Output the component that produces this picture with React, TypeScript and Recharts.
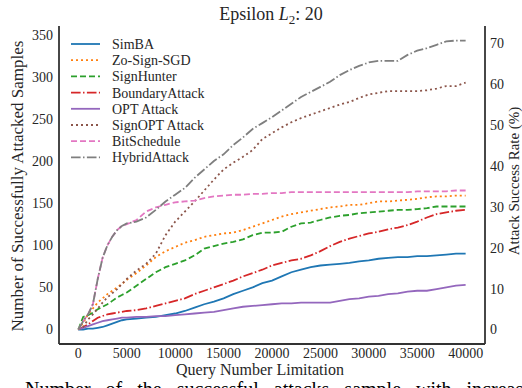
import React from 'react';
import { LineChart, Line, XAxis, YAxis } from 'recharts';

const queries = [0, 500, 1000, 1500, 2000, 2500, 3000, 3500, 4000, 4500, 5000,
  6000, 7000, 8000, 9000, 10000, 11000, 12000, 13000, 14000, 15000, 16000, 17000, 18000, 19000, 20000,
  21000, 22000, 23000, 24000, 25000, 26000, 27000, 28000, 29000, 30000, 31000, 32000, 33000, 34000, 35000,
  36000, 37000, 38000, 39000, 40000];

const simba = [0, 0, 1, 1, 2, 3, 5, 7, 9, 11, 12,
  13, 14, 15, 17, 19, 22, 26, 30, 33, 37, 42, 46, 50, 55, 58,
  63, 68, 71, 74, 76, 77, 78, 79, 81, 82, 84, 85, 86, 86, 87,
  87, 88, 89, 90, 90];
const zoSignSgd = [0, 8, 18, 25, 32, 37, 42, 46, 50, 54, 59,
  67, 76, 86, 93, 98, 103, 106, 110, 112, 114, 115, 118, 122, 126, 130,
  134, 137, 139, 141, 143, 145, 146, 148, 148, 150, 152, 152, 153, 154, 155,
  157, 158, 158, 159, 159];
const signHunter = [0, 15, 17, 20, 24, 27, 30, 34, 38, 41, 44,
  52, 60, 68, 74, 78, 82, 88, 96, 99, 102, 104, 107, 112, 115, 115,
  116, 122, 126, 127, 130, 133, 135, 136, 138, 139, 140, 141, 142, 142, 143,
  144, 146, 146, 146, 146];
const boundaryAttack = [0, 3, 6, 10, 14, 16, 18, 19, 20, 21, 22,
  23, 25, 28, 31, 34, 37, 42, 46, 50, 54, 58, 63, 67, 71, 76,
  79, 82, 84, 88, 93, 99, 104, 108, 111, 114, 116, 119, 121, 124, 128,
  133, 137, 139, 141, 142];
const optAttack = [0, 2, 4, 6, 8, 10, 11, 12, 13, 14, 14,
  15, 15, 16, 16, 17, 18, 19, 20, 21, 23, 25, 27, 28, 29, 30,
  31, 31, 32, 32, 32, 32, 34, 36, 37, 39, 40, 42, 43, 45, 46,
  46, 48, 50, 52, 53];
const signOptAttack = [0, 3, 12, 18, 25, 32, 38, 43, 48, 54, 60,
  70, 78, 90, 112, 128, 140, 152, 165, 178, 190, 198, 205, 213, 226, 233,
  240, 246, 251, 255, 259, 263, 267, 270, 275, 279, 281, 283, 283, 283, 283,
  284, 286, 289, 289, 293];
const bitSchedule = [0, 10, 18, 30, 60, 85, 100, 110, 118, 123, 125,
  130, 140, 145, 148, 151, 152, 153, 156, 158, 159, 160, 160, 161, 161, 162,
  162, 163, 163, 163, 163, 163, 163, 163, 163, 163, 163, 163, 163, 163, 164,
  164, 164, 164, 165, 165];
const hybridAttack = [0, 10, 18, 30, 60, 85, 100, 110, 118, 123, 126,
  128, 133, 142, 152, 160, 168, 180, 190, 200, 208, 219, 228, 238, 245, 252,
  260, 268, 276, 282, 288, 294, 302, 308, 313, 317, 319, 319, 319, 326, 331,
  334, 338, 342, 343, 343];

const xTicks = [0, 5000, 10000, 15000, 20000, 25000, 30000, 35000, 40000];
const leftTicks = [0, 50, 100, 150, 200, 250, 300, 350];
const rightTicks = [0, 10, 20, 30, 40, 50, 60, 70];
const totalSamples = 485;

const seriesNames = ['SimBA', 'Zo-Sign-SGD', 'SignHunter', 'BoundaryAttack', 'OPT Attack', 'SignOPT Attack', 'BitSchedule', 'HybridAttack'];
const seriesValues = [simba, zoSignSgd, signHunter, boundaryAttack, optAttack, signOptAttack, bitSchedule, hybridAttack];

const colors = ['#1f77b4', '#ff7f0e', '#2ca02c', '#d62728', '#9467bd', '#8c564b', '#e377c2', '#7f7f7f'];
const dashes = [undefined, '2,3', '6,3', '9.6,2.4,1.5,2.4', undefined, '2,3', '6,3', '9.6,2.4,1.5,2.4'];

const keys = seriesNames.map((_, i) => 's' + i);
const data = queries.map((q, i) => {
  const row: Record<string, number> = { q };
  seriesValues.forEach((arr, k) => { row[keys[k]] = arr[i]; });
  return row;
});

const leftDomain = [-17.2, 360.3];
const rightDomain = [leftDomain[0] / totalSamples * 100, leftDomain[1] / totalSamples * 100];

const FONT = '"Liberation Serif", "DejaVu Serif", serif';
const TXT = '#262626';
const FRAME = '#333333';

export default function App() {
  return (
    <div style={{ position: 'absolute', left: 0, top: 0, width: 522, height: 388, overflow: 'hidden', background: '#fff', fontFamily: FONT }}>
      <LineChart width={522} height={388} data={data} margin={{ top: 26, right: 0, left: 0, bottom: 0 }}>
        <XAxis dataKey="q" type="number" domain={[-2000, 42000]} ticks={xTicks} allowDataOverflow
          height={44} tickSize={0} tickMargin={4} tickLine={false}
          axisLine={{ stroke: FRAME, strokeWidth: 1.8 }}
          tick={{ fontFamily: FONT, fontSize: 14, fill: TXT }} interval={0} />
        <XAxis xAxisId="top" orientation="top" dataKey="q" type="number" domain={[-2000, 42000]} height={0}
          tick={false} tickLine={false} axisLine={{ stroke: FRAME, strokeWidth: 1.8 }} />
        <YAxis yAxisId="left" type="number" domain={leftDomain} ticks={leftTicks} allowDataOverflow
          width={59} tickSize={0} tickMargin={6} tickLine={false} interval={0}
          axisLine={{ stroke: FRAME, strokeWidth: 1.8 }}
          tick={{ fontFamily: FONT, fontSize: 14, fill: TXT }} />
        <YAxis yAxisId="right" orientation="right" type="number" domain={rightDomain} ticks={rightTicks} allowDataOverflow
          width={37} tickSize={0} tickMargin={5} tickLine={false} interval={0}
          axisLine={{ stroke: FRAME, strokeWidth: 1.8 }}
          tick={{ fontFamily: FONT, fontSize: 14, fill: TXT }} />
        {keys.map((k, i) => (
          <Line key={k} yAxisId="left" dataKey={k} name={seriesNames[i]} type="linear"
            stroke={colors[i]} strokeWidth={1.8} strokeDasharray={dashes[i]}
            dot={false} activeDot={false} isAnimationActive={false} />
        ))}
      </LineChart>
      <svg width={522} height={388} style={{ position: 'absolute', left: 0, top: 0, pointerEvents: 'none' }}>
        <text x={271} y={20} textAnchor="middle" fontFamily={FONT} fontSize={18} fill={TXT}>
          Epsilon <tspan fontStyle="italic">L</tspan><tspan dy={4} fontSize={13}>2</tspan><tspan dy={-4}>: 20</tspan>
        </text>
        <text x={260} y={375} textAnchor="middle" fontFamily={FONT} fontSize={16} fill={TXT}>Query Number Limitation</text>
        <text transform="translate(23,186) rotate(-90)" textAnchor="middle" fontFamily={FONT} fontSize={17} fill={TXT}>Number of Successfully Attacked Samples</text>
        <text transform="translate(519,181) rotate(-90)" textAnchor="middle" fontFamily={FONT} fontSize={15} fill={TXT}>Attack Success Rate (%)</text>
        {seriesNames.map((n, i) => {
          const cy = 44 + 16.2 * i;
          return (
            <g key={n}>
              <line x1={71} x2={100} y1={cy} y2={cy} stroke={colors[i]} strokeWidth={1.8} strokeDasharray={dashes[i]} />
              <text x={112} y={cy + 5} fontFamily={FONT} fontSize={14} fill={TXT}>{n}</text>
            </g>
          );
        })}
      </svg>
      <div style={{ position: 'absolute', left: 25, top: 379, fontSize: 20, lineHeight: '20px', whiteSpace: 'nowrap', wordSpacing: 10, color: '#000', fontFamily: FONT }}>
        Number of the successful attacks sample with increasing
      </div>
    </div>
  );
}
